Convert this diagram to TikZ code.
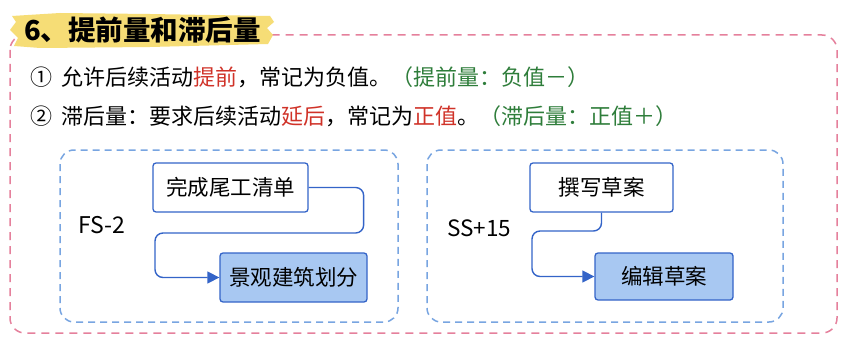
\documentclass[tikz,border=0pt]{standalone}
\usepackage{xcolor}
\usepackage{fontspec}
\setmainfont{Noto Sans CJK SC}
\usepackage{tikz}
\usetikzlibrary{arrows.meta,positioning}
\definecolor{LagPink}{RGB}{229,128,156}
\definecolor{LagYellow}{RGB}{246,221,118}
\definecolor{LagBlue}{RGB}{52,100,200}
\definecolor{LagDash}{RGB}{120,165,225}
\definecolor{LagFill}{RGB}{168,200,242}
\definecolor{LagRed}{RGB}{208,50,40}
\definecolor{LagGreen}{RGB}{46,125,58}

\begin{document}
\begin{tikzpicture}[x=1pt, y=-1pt,
    txt/.style={anchor=west, inner sep=0pt, font=\fontsize{22}{26}\selectfont},
    group/.style={draw=LagDash, line width=1.5pt, dash pattern=on 7pt off 5pt, rounded corners=14pt},
    task/.style={draw=LagBlue, line width=1.3pt, fill=white, rounded corners=3pt, minimum height=49pt, inner sep=0pt, font=\fontsize{21.5}{25}\selectfont},
    lagtask/.style={task, fill=LagFill},
    flow/.style={-{Triangle[length=12pt, width=12pt]}, line width=1.4pt, draw=LagBlue, rounded corners=8pt}
  ]
    \useasboundingbox[fill=white] (0,0) rectangle (863,345);
    % outer frame and title
    \draw[draw=LagPink, line width=1.5pt, dash pattern=on 8pt off 6pt, rounded corners=15pt] (10,35) rectangle (837,333);
    \fill[LagYellow] (12,16) -- (60,13) -- (150,14) -- (270,16) -- (274,22) -- (267,28) -- (273,35) -- (268,44) -- (150,47) -- (40,48) -- (14,46) -- (18,38) -- (10,30) -- (16,22) -- cycle;
    \node[txt, font=\fontsize{27.5}{31}\selectfont\bfseries] (title) at (24,30) {6、提前量和滞后量};
    \node[txt] (lead) at (30,77) {①\hspace{9pt}允许后续活动\textcolor{LagRed}{提前}，常记为负值。\textcolor{LagGreen}{（提前量：负值－）}};
    \node[txt] (lag) at (30,116) {②\hspace{9pt}滞后量：要求后续活动\textcolor{LagRed}{延后}，常记为\textcolor{LagRed}{正值}。\textcolor{LagGreen}{（滞后量：正值＋）}};
    % FS example
    \draw[group] (60,150) rectangle (398,322);
    \node[txt, font=\fontsize{23}{27}\selectfont] (fs) at (78,225) {FS-2};
    \node[task, minimum width=155pt] (punch) at (230.5,187.5) {完成尾工清单};
    \node[lagtask, minimum width=147pt] (scape) at (293.5,277.5) {景观建筑划分};
    \draw[flow] (punch.east) -- ++(55,0) |- (155,233) |- (scape.west);
    % SS example
    \draw[group] (427,150) rectangle (783,322);
    \node[txt, font=\fontsize{22.5}{27}\selectfont] (ss) at (447,228) {SS+15};
    \node[task, minimum width=143pt] (draft) at (601.5,187.5) {撰写草案};
    \node[lagtask, minimum width=138pt, minimum height=47pt] (edit) at (664,276.5) {编辑草案};
    \draw[flow] (draft.south) |- (532,231) |- (edit.west);
  \end{tikzpicture}
\end{document}
